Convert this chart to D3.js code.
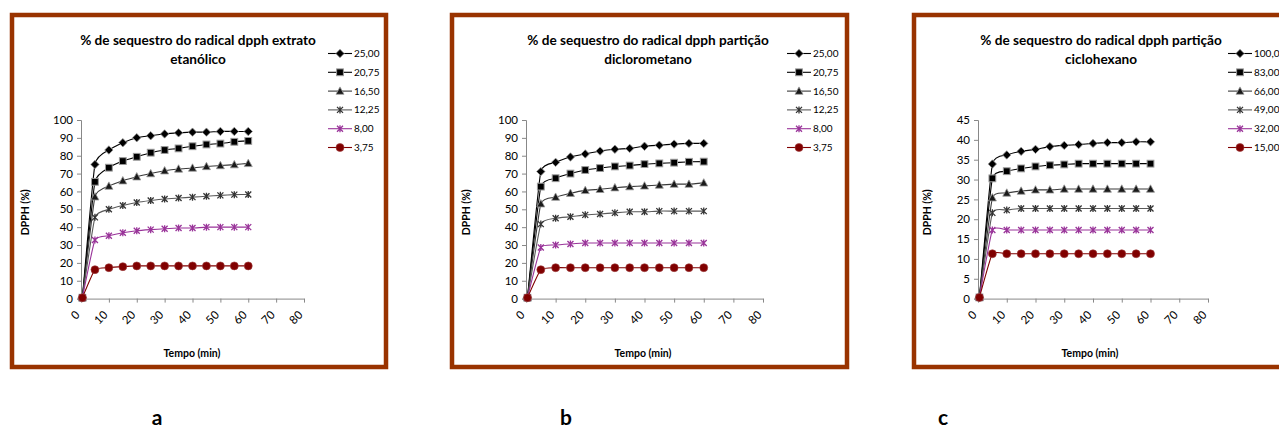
<!DOCTYPE html>
<html>
<head>
<meta charset="utf-8">
<script src="https://cdn.jsdelivr.net/npm/d3@7"></script>
<style>
  html, body { margin: 0; padding: 0; background: #fff; overflow: hidden; }
  svg { display: block; }
  text { font-family: Lato, "Liberation Sans", sans-serif; fill: #000; }
</style>
</head>
<body>
<svg id="chart" width="1279" height="428"></svg>
<script>
// Sampling times (min)
const times = [0.5, 5, 10, 15, 20, 25, 30, 35, 40, 45, 50, 55, 60];

// Concentrations shown in each legend
const concEtanolico = ["25,00", "20,75", "16,50", "12,25", "8,00", "3,75"];
const concDiclorometano = ["25,00", "20,75", "16,50", "12,25", "8,00", "3,75"];
const concCiclohexano = ["100,00", "83,00", "66,00", "49,00", "32,00", "15,00"];

// % DPPH sequestration, one row per concentration
const dpphEtanolico = [
  [0.5, 75.1, 83.2, 87.3, 90.1, 91.2, 92.2, 92.8, 93.2, 93.2, 93.6, 93.6, 93.6],
  [0.5, 65.4, 73.3, 77.0, 79.4, 81.7, 83.2, 84.1, 85.3, 86.3, 86.8, 87.8, 88.3],
  [0.5, 57.0, 63.0, 66.0, 68.2, 70.0, 71.6, 72.6, 73.1, 74.0, 74.5, 75.0, 75.7],
  [0.5, 45.5, 50.0, 52.1, 53.8, 54.9, 55.8, 56.3, 56.8, 57.3, 57.8, 58.2, 58.3],
  [0.5, 32.8, 35.2, 36.9, 38.0, 38.6, 39.1, 39.5, 39.5, 40.0, 40.0, 40.0, 40.0],
  [0.5, 16.2, 17.3, 17.9, 18.3, 18.3, 18.3, 18.3, 18.3, 18.3, 18.3, 18.3, 18.3]
];
const dpphDiclorometano = [
  [0.5, 71.1, 76.3, 79.3, 81.0, 82.6, 83.6, 84.1, 85.3, 85.9, 86.5, 86.9, 86.9],
  [0.5, 62.7, 67.4, 70.0, 72.0, 73.1, 74.0, 74.5, 75.3, 75.7, 76.1, 76.6, 76.7],
  [0.5, 53.1, 56.8, 59.0, 60.6, 61.2, 62.1, 62.7, 63.1, 63.6, 64.1, 64.1, 64.8],
  [0.5, 41.7, 45.0, 45.8, 46.9, 47.4, 48.0, 48.6, 48.6, 49.0, 49.0, 49.0, 49.0],
  [0.5, 28.6, 30.0, 30.6, 31.1, 31.1, 31.1, 31.1, 31.1, 31.1, 31.1, 31.1, 31.1],
  [0.5, 16.2, 17.3, 17.3, 17.3, 17.3, 17.3, 17.3, 17.3, 17.3, 17.3, 17.3, 17.3]
];
const dpphCiclohexano = [
  [0.3, 33.9, 36.2, 37.1, 37.6, 38.3, 38.6, 38.8, 39.1, 39.3, 39.3, 39.5, 39.5],
  [0.3, 30.3, 32.1, 32.8, 33.3, 33.6, 33.8, 34.0, 34.0, 34.0, 34.0, 34.0, 34.0],
  [0.3, 25.4, 26.6, 27.1, 27.4, 27.4, 27.6, 27.6, 27.6, 27.6, 27.6, 27.6, 27.6],
  [0.3, 21.6, 22.3, 22.7, 22.7, 22.7, 22.7, 22.7, 22.7, 22.7, 22.7, 22.7, 22.7],
  [0.3, 17.3, 17.3, 17.3, 17.3, 17.3, 17.3, 17.3, 17.3, 17.3, 17.3, 17.3, 17.3],
  [0.3, 11.3, 11.3, 11.3, 11.3, 11.3, 11.3, 11.3, 11.3, 11.3, 11.3, 11.3, 11.3]
];

const xTicks = [0, 10, 20, 30, 40, 50, 60, 70, 80];
const yTicks100 = [0, 10, 20, 30, 40, 50, 60, 70, 80, 90, 100];
const yTicks45 = [0, 5, 10, 15, 20, 25, 30, 35, 40, 45];

// Per-series look: line colour, marker shape and marker fill
const seriesStyle = [
  { line: "#000000", marker: "diamond", fill: "#000000" },
  { line: "#000000", marker: "square", fill: "#000000" },
  { line: "#3a3a3a", marker: "triangle", fill: "#1a1a1a" },
  { line: "#5a5a5a", marker: "star", fill: "#333333" },
  { line: "#993399", marker: "star", fill: "#993399" },
  { line: "#800000", marker: "circle", fill: "#800000" }
];

const panels = [
  { box: [12, 15, 374, 352], title: ["% de sequestro do radical dpph extrato", "etanólico"],
    titleX: 198, x0: 81, x1: 304, yTop: 120, yBot: 298.6, yMax: 100, yTicks: yTicks100,
    legendX: 328, yLabelX: 25, xLabelX: 192, conc: concEtanolico, values: dpphEtanolico, letter: "a", letterX: 157 },
  { box: [452, 15, 395, 352], title: ["% de sequestro do radical dpph partição", "diclorometano"],
    titleX: 648, x0: 526, x1: 763, yTop: 120, yBot: 298.6, yMax: 100, yTicks: yTicks100,
    legendX: 787, yLabelX: 466, xLabelX: 643, conc: concDiclorometano, values: dpphDiclorometano, letter: "b", letterX: 566 },
  { box: [914, 15, 420, 352], title: ["% de sequestro do radical dpph partição", "ciclohexano"],
    titleX: 1101, x0: 978, x1: 1208, yTop: 120, yBot: 298.6, yMax: 45, yTicks: yTicks45,
    legendX: 1228, yLabelX: 927, xLabelX: 1090, conc: concCiclohexano, values: dpphCiclohexano, letter: "c", letterX: 943 }
];

const svg = d3.select("#chart");

function drawMarker(g, shape, x, y, fill) {
  const edge = fill === "#000000" || fill === "#1a1a1a" || fill === "#333333" ? "#9a9a9a" : fill;
  if (shape === "diamond") {
    g.append("path").attr("d", `M${x},${y - 4.2}L${x + 4.2},${y}L${x},${y + 4.2}L${x - 4.2},${y}Z`)
      .attr("fill", fill).attr("stroke", edge).attr("stroke-width", 0.8);
  } else if (shape === "square") {
    g.append("rect").attr("x", x - 3.4).attr("y", y - 3.4).attr("width", 6.8).attr("height", 6.8)
      .attr("fill", fill).attr("stroke", edge).attr("stroke-width", 1);
  } else if (shape === "triangle") {
    g.append("path").attr("d", `M${x},${y - 4.2}L${x + 4},${y + 3.2}L${x - 4},${y + 3.2}Z`)
      .attr("fill", fill).attr("stroke", edge).attr("stroke-width", 0.8);
  } else if (shape === "star") {
    g.append("path")
      .attr("d", `M${x - 3},${y - 3}L${x + 3},${y + 3}M${x - 3},${y + 3}L${x + 3},${y - 3}M${x},${y - 3.5}L${x},${y + 3.5}`)
      .attr("stroke", fill).attr("stroke-width", 1.3).attr("fill", "none");
  } else {
    g.append("circle").attr("cx", x).attr("cy", y).attr("r", 4)
      .attr("fill", fill).attr("stroke", "#a04040").attr("stroke-width", 0.6);
  }
}

panels.forEach(p => {
  const g = svg.append("g");

  // Frame
  g.append("rect").attr("x", p.box[0]).attr("y", p.box[1]).attr("width", p.box[2]).attr("height", p.box[3])
    .attr("fill", "#fff").attr("stroke", "#993300").attr("stroke-width", 4.5);

  // Title
  p.title.forEach((t, i) => {
    g.append("text").attr("x", p.titleX).attr("y", 44.5 + i * 19).attr("text-anchor", "middle")
      .attr("font-size", 13.6).attr("font-weight", "bold").text(t);
  });

  const x = d3.scaleLinear().domain([0, 80]).range([p.x0, p.x1]);
  const y = d3.scaleLinear().domain([0, p.yMax]).range([p.yBot, p.yTop]);

  // Axes
  const yAxis = g.append("g").attr("transform", `translate(${p.x0},0)`)
    .call(d3.axisLeft(y).tickValues(p.yTicks).tickSize(4).tickPadding(4).tickFormat(d3.format("d")));
  yAxis.select(".domain").attr("stroke", "#888");
  yAxis.selectAll(".tick line").attr("stroke", "#888");
  yAxis.selectAll("text").attr("font-size", 11.5).attr("font-family", "Lato, sans-serif").attr("fill", "#000");

  const xAxis = g.append("g").attr("transform", `translate(0,${p.yBot})`)
    .call(d3.axisBottom(x).tickValues(xTicks).tickSize(4).tickSizeOuter(0).tickFormat(d3.format("d")));
  xAxis.select(".domain").attr("stroke", "#888");
  xAxis.selectAll(".tick line").attr("stroke", "#888");
  xAxis.selectAll("text").attr("font-size", 11.5).attr("font-family", "Lato, sans-serif").attr("fill", "#000")
    .attr("text-anchor", "end").attr("dy", 0).attr("y", 0)
    .attr("transform", "translate(-1,17) rotate(-45)");

  // Axis titles
  g.append("text").attr("transform", `translate(${p.yLabelX + 4},${(p.yTop + p.yBot) / 2 + 3}) rotate(-90)`)
    .attr("text-anchor", "middle").attr("font-size", 10.5).attr("font-weight", "bold").text("DPPH (%)");
  g.append("text").attr("x", p.xLabelX).attr("y", 357).attr("text-anchor", "middle")
    .attr("font-size", 10.5).attr("font-weight", "bold").text("Tempo (min)");

  // Series (smoothed lines)
  const line = d3.line().x(d => x(d[0])).y(d => y(d[1])).curve(d3.curveCardinal.tension(0.6));
  p.values.forEach((vals, si) => {
    const st = seriesStyle[si];
    const pts = times.map((t, i) => [t, vals[i]]);
    g.append("path").datum(pts).attr("d", line).attr("fill", "none")
      .attr("stroke", st.line).attr("stroke-width", 1.1);
    const mg = g.append("g");
    pts.forEach(d => drawMarker(mg, st.marker, x(d[0]), y(d[1]), st.fill));
  });

  // Legend
  p.conc.forEach((c, i) => {
    const st = seriesStyle[i];
    const ly = 53.5 + i * 18.8;
    g.append("line").attr("x1", p.legendX).attr("x2", p.legendX + 24).attr("y1", ly).attr("y2", ly)
      .attr("stroke", st.line).attr("stroke-width", 1.1);
    drawMarker(g, st.marker, p.legendX + 12, ly, st.fill);
    g.append("text").attr("x", p.legendX + 26).attr("y", ly + 3.5).attr("font-size", 10).text(c);
  });

  // Panel letter
  svg.append("text").attr("x", p.letterX).attr("y", 425).attr("text-anchor", "middle")
    .attr("font-family", "Liberation Sans, Arial, sans-serif").attr("font-weight", "bold")
    .attr("font-size", 21).text(p.letter);
});
</script>
</body>
</html>
